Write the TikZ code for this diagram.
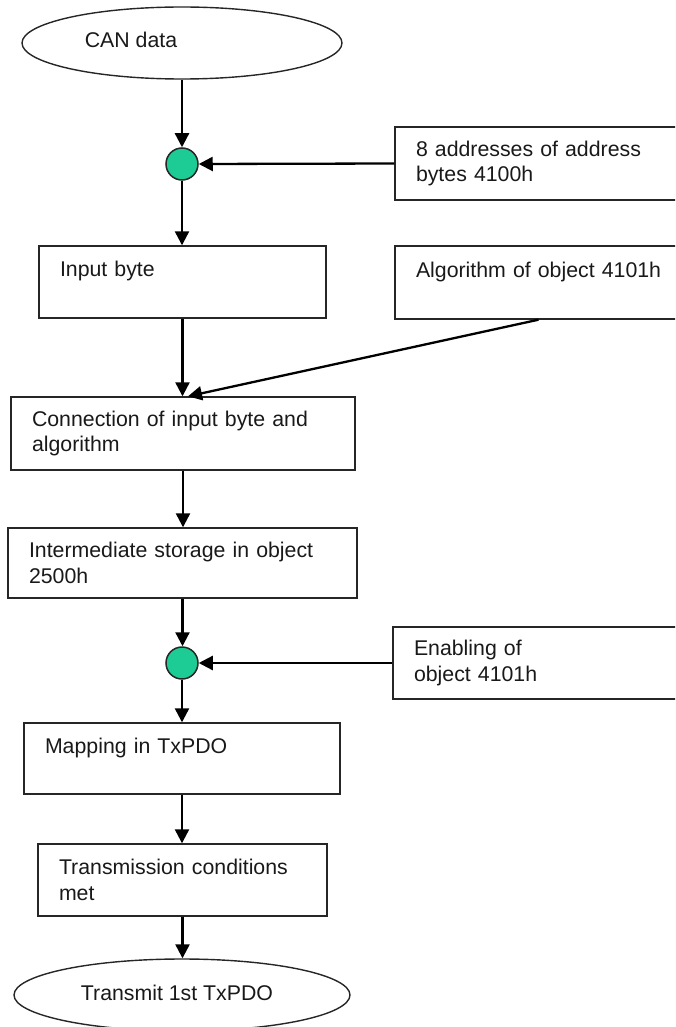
\documentclass[tikz,border=0pt]{standalone}
\usepackage{fontspec}
\setmainfont{Liberation Sans}
\usetikzlibrary{shapes.geometric,arrows.meta}
\definecolor{joingreen}{RGB}{29,204,148}
\tikzset{
  every node/.style={font=\fontsize{21.3pt}{25.5pt}\selectfont, text=black!90},
  stepbox/.style={draw=black!85, line width=1.4pt, rectangle, align=left,
    inner xsep=21pt, inner ysep=0pt, anchor=center},
  termin/.style={draw=black!85, line width=1.4pt, ellipse, inner sep=0pt},
  junction/.style={draw=black!85, line width=1.5pt, circle, fill=joingreen,
    minimum size=32pt, inner sep=0pt},
  flow/.style={line width=2.3pt, -{Triangle[width=14pt,length=14pt]}},
}
\begin{document}
\begin{tikzpicture}[x=1pt,y=-1pt]
\useasboundingbox (0,0) rectangle (675,1027);
\clip (0,0) rectangle (675,1027);

% terminators
\node[termin, minimum width=320pt, minimum height=72pt] (can) at (182,43) {};
\node (cantext) at (131,40) {CAN data};
\node[termin, minimum width=336pt, minimum height=72pt] (tx) at (182,995) {};
\node (txtext) at (177,993) {Transmit 1st TxPDO};

% junctions
\node[junction] (j1) at (182,164) {};
\node[junction] (j2) at (182,663) {};

% side inputs (running off the right edge)
\node[stepbox, text width=253pt, minimum height=73pt] (addr) at (542.5,163.5)
  {8 addresses of address\\bytes 4100h};
\node[stepbox, text width=253pt, minimum height=73pt] (alg) at (542.5,282.5)
  {Algorithm of object 4101h\\\mbox{}};
\node[stepbox, text width=255pt, minimum height=72pt] (en) at (541.5,663)
  {Enabling of\\object 4101h};

% main chain
\node[stepbox, text width=245pt, minimum height=72pt] (inp) at (182.5,282)
  {Input byte\\\mbox{}};
\node[stepbox, text width=302pt, minimum height=73pt] (conn) at (183,433.5)
  {Connection of input byte and\\algorithm};
\node[stepbox, text width=307pt, minimum height=70pt] (inter) at (182.5,563)
  {Intermediate storage in object\\2500h};
\node[stepbox, text width=274pt, minimum height=71pt] (map) at (182,758.5)
  {Mapping in TxPDO\\\mbox{}};
\node[stepbox, text width=247pt, minimum height=72pt] (trans) at (182.5,880)
  {Transmission conditions\\met};

% connectors
\draw[flow] (can.south) -- (j1.north);
\draw[flow] (addr.west) -- (j1.east);
\draw[flow] (j1.south) -- (j1.south |- inp.north);
\draw[flow] (inp.south) -- (inp.south |- conn.north);
\draw[flow] ([xshift=-4pt]alg.south) -- ([xshift=5pt]conn.north);
\draw[flow] (conn.south) -- (conn.south |- inter.north);
\draw[flow] (inter.south) -- (inter.south |- j2.north);
\draw[flow] (en.west) -- (j2.east);
\draw[flow] (j2.south) -- (j2.south |- map.north);
\draw[flow] (map.south) -- (map.south |- trans.north);
\draw[flow] (trans.south) -- (trans.south |- tx.north);
\end{tikzpicture}
\end{document}
